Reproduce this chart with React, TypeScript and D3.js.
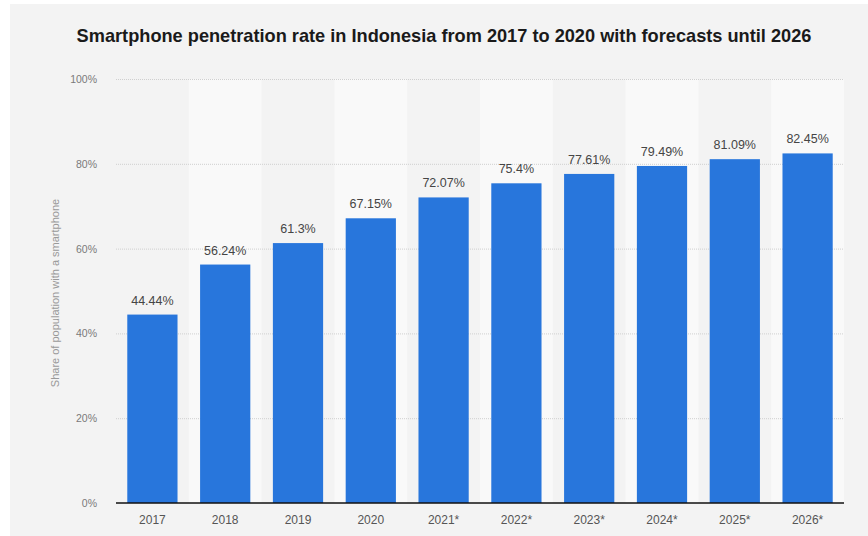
import { useEffect, useRef } from 'react';
import * as d3 from 'd3';

const years = ['2017', '2018', '2019', '2020', '2021*', '2022*', '2023*', '2024*', '2025*', '2026*'];
const shares = [44.44, 56.24, 61.3, 67.15, 72.07, 75.4, 77.61, 79.49, 81.09, 82.45];
const yTicks = [0, 20, 40, 60, 80, 100];

const W = 868;
const H = 536;
const plot = { left: 116, right: 844, top: 79, bottom: 503 };
const FONT = '"Liberation Sans", Arial, Helvetica, sans-serif';

export default function App() {
  const svgRef = useRef<SVGSVGElement>(null);

  useEffect(() => {
    const svg = d3.select(svgRef.current);
    svg.selectAll('*').remove();

    const x = d3.scaleBand<string>().domain(years).range([plot.left, plot.right]).paddingInner(0.31).paddingOuter(0.155);
    const band = d3.scaleBand<string>().domain(years).range([plot.left, plot.right]);
    const y = d3.scaleLinear().domain([0, 100]).range([plot.bottom, plot.top]);

    // page background with thin white margin top/left
    svg.append('rect').attr('width', W).attr('height', H).attr('fill', '#ffffff');
    svg.append('rect').attr('x', 10).attr('y', 4).attr('width', W - 10).attr('height', H - 4).attr('fill', '#f3f3f3');

    // alternating column bands
    svg
      .append('g')
      .selectAll('rect')
      .data(years.filter((_d, i) => i % 2 === 1))
      .join('rect')
      .attr('x', (d) => band(d)!)
      .attr('y', plot.top)
      .attr('width', band.bandwidth())
      .attr('height', plot.bottom - plot.top)
      .attr('fill', '#f9f9f9');

    // grid
    svg
      .append('g')
      .selectAll('line')
      .data(yTicks.filter((t) => t > 0))
      .join('line')
      .attr('x1', plot.left)
      .attr('x2', plot.right)
      .attr('y1', (d) => y(d) + 0.5)
      .attr('y2', (d) => y(d) + 0.5)
      .attr('stroke', '#cfcfcf')
      .attr('stroke-width', 1)
      .attr('stroke-dasharray', '1,1');

    // y tick labels
    svg
      .append('g')
      .selectAll('text')
      .data(yTicks)
      .join('text')
      .attr('x', 97)
      .attr('y', (d) => y(d) + 4)
      .attr('text-anchor', 'end')
      .attr('font-family', FONT)
      .attr('font-size', 10.5)
      .attr('fill', '#7a7a7a')
      .text((d) => `${d}%`);

    // bars
    svg
      .append('g')
      .selectAll('rect')
      .data(shares)
      .join('rect')
      .attr('x', (_d, i) => x(years[i])!)
      .attr('y', (d) => y(d))
      .attr('width', x.bandwidth())
      .attr('height', (d) => plot.bottom - y(d))
      .attr('fill', '#2876dc');

    // value labels
    svg
      .append('g')
      .selectAll('text')
      .data(shares)
      .join('text')
      .attr('x', (_d, i) => x(years[i])! + x.bandwidth() / 2)
      .attr('y', (d) => y(d) - 10)
      .attr('text-anchor', 'middle')
      .attr('font-family', FONT)
      .attr('font-size', 12.5)
      .attr('fill', '#454545')
      .text((d) => `${d}%`);

    // baseline
    svg
      .append('line')
      .attr('x1', plot.left)
      .attr('x2', plot.right)
      .attr('y1', plot.bottom)
      .attr('y2', plot.bottom)
      .attr('stroke', '#111111')
      .attr('stroke-width', 1.5);

    // x labels
    svg
      .append('g')
      .selectAll('text')
      .data(years)
      .join('text')
      .attr('x', (d) => band(d)! + band.bandwidth() / 2)
      .attr('y', 524)
      .attr('text-anchor', 'middle')
      .attr('font-family', FONT)
      .attr('font-size', 12)
      .attr('fill', '#555555')
      .text((d) => d);

    // y axis title
    svg
      .append('text')
      .attr('transform', `translate(59,293) rotate(-90)`)
      .attr('text-anchor', 'middle')
      .attr('font-family', FONT)
      .attr('font-size', 11)
      .attr('fill', '#999999')
      .text('Share of population with a smartphone');

    // title
    svg
      .append('text')
      .attr('x', 444)
      .attr('y', 42)
      .attr('text-anchor', 'middle')
      .attr('font-family', FONT)
      .attr('font-weight', 'bold')
      .attr('font-size', 18.2)
      .attr('fill', '#1a1a1a')
      .text('Smartphone penetration rate in Indonesia from 2017 to 2020 with forecasts until 2026');
  }, []);

  return (
    <svg
      ref={svgRef}
      width={W}
      height={H}
      viewBox={`0 0 ${W} ${H}`}
      style={{ position: 'absolute', left: 0, top: 0, display: 'block' }}
    />
  );
}
